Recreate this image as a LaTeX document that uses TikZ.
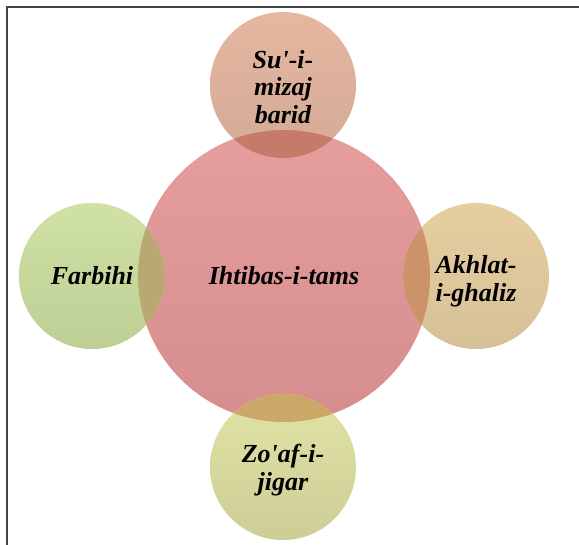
\documentclass[tikz,border=0pt]{standalone}
\usepackage{fontspec}
\setmainfont{Liberation Serif}[Ligatures=TeXOff]
\definecolor{bigT}{RGB}{229,157,157}
\definecolor{bigB}{RGB}{214,141,141}
\definecolor{topT}{RGB}{229,183,160}
\definecolor{topB}{RGB}{212,170,150}
\definecolor{lefT}{RGB}{208,225,165}
\definecolor{lefB}{RGB}{190,207,150}
\definecolor{rigT}{RGB}{229,207,160}
\definecolor{rigB}{RGB}{214,192,150}
\definecolor{botT}{RGB}{225,227,165}
\definecolor{botB}{RGB}{205,205,150}
\definecolor{lensTop}{RGB}{198,122,106}
\definecolor{lensLeft}{RGB}{186,168,115}
\definecolor{lensRight}{RGB}{204,146,106}
\definecolor{lensBot}{RGB}{204,168,104}
\definecolor{framec}{RGB}{68,68,68}
\begin{document}
\begin{tikzpicture}[x=1pt,y=-1pt,
  blob/.style={circle,inner sep=0pt,minimum size=146pt},
  lbl/.style={align=center,inner sep=0pt,font=\bfseries\itshape\fontsize{26}{27.5}\selectfont}]
\useasboundingbox (0,0) rectangle (579,545);
\clip (0,0) rectangle (579,545);
% circles
\node[circle,inner sep=0pt,minimum size=292pt,top color=bigT,bottom color=bigB] (big) at (284,276) {};
\node[blob,top color=topT,bottom color=topB] (top) at (283,85) {};
\node[blob,top color=lefT,bottom color=lefB] (left) at (92,276) {};
\node[blob,top color=rigT,bottom color=rigB] (right) at (476,276) {};
\node[blob,top color=botT,bottom color=botB] (bot) at (283,467) {};
% overlaps
\begin{scope}
  \clip (top.center) circle (73pt);
  \fill[lensTop] (big.center) circle (146pt);
\end{scope}
\begin{scope}
  \clip (left.center) circle (73pt);
  \fill[lensLeft] (big.center) circle (146pt);
\end{scope}
\begin{scope}
  \clip (right.center) circle (73pt);
  \fill[lensRight] (big.center) circle (146pt);
\end{scope}
\begin{scope}
  \clip (bot.center) circle (73pt);
  \fill[lensBot] (big.center) circle (146pt);
\end{scope}
% labels
\node[lbl] (tbig) at (284,276) {Ihtibas-i-tams};
\node[lbl] (ttop) at (283,87) {Su'-i-\\mizaj\\barid};
\node[lbl] (tleft) at (92,276) {Farbihi};
\node[lbl] (tright) at (476,281) {Akhlat-\\i-ghaliz};
\node[lbl] (tbot) at (283,470) {Zo'af-i-\\jigar};
% frame
\draw[framec,line width=2pt] (7,7) rectangle (600,570);
\end{tikzpicture}
\end{document}
